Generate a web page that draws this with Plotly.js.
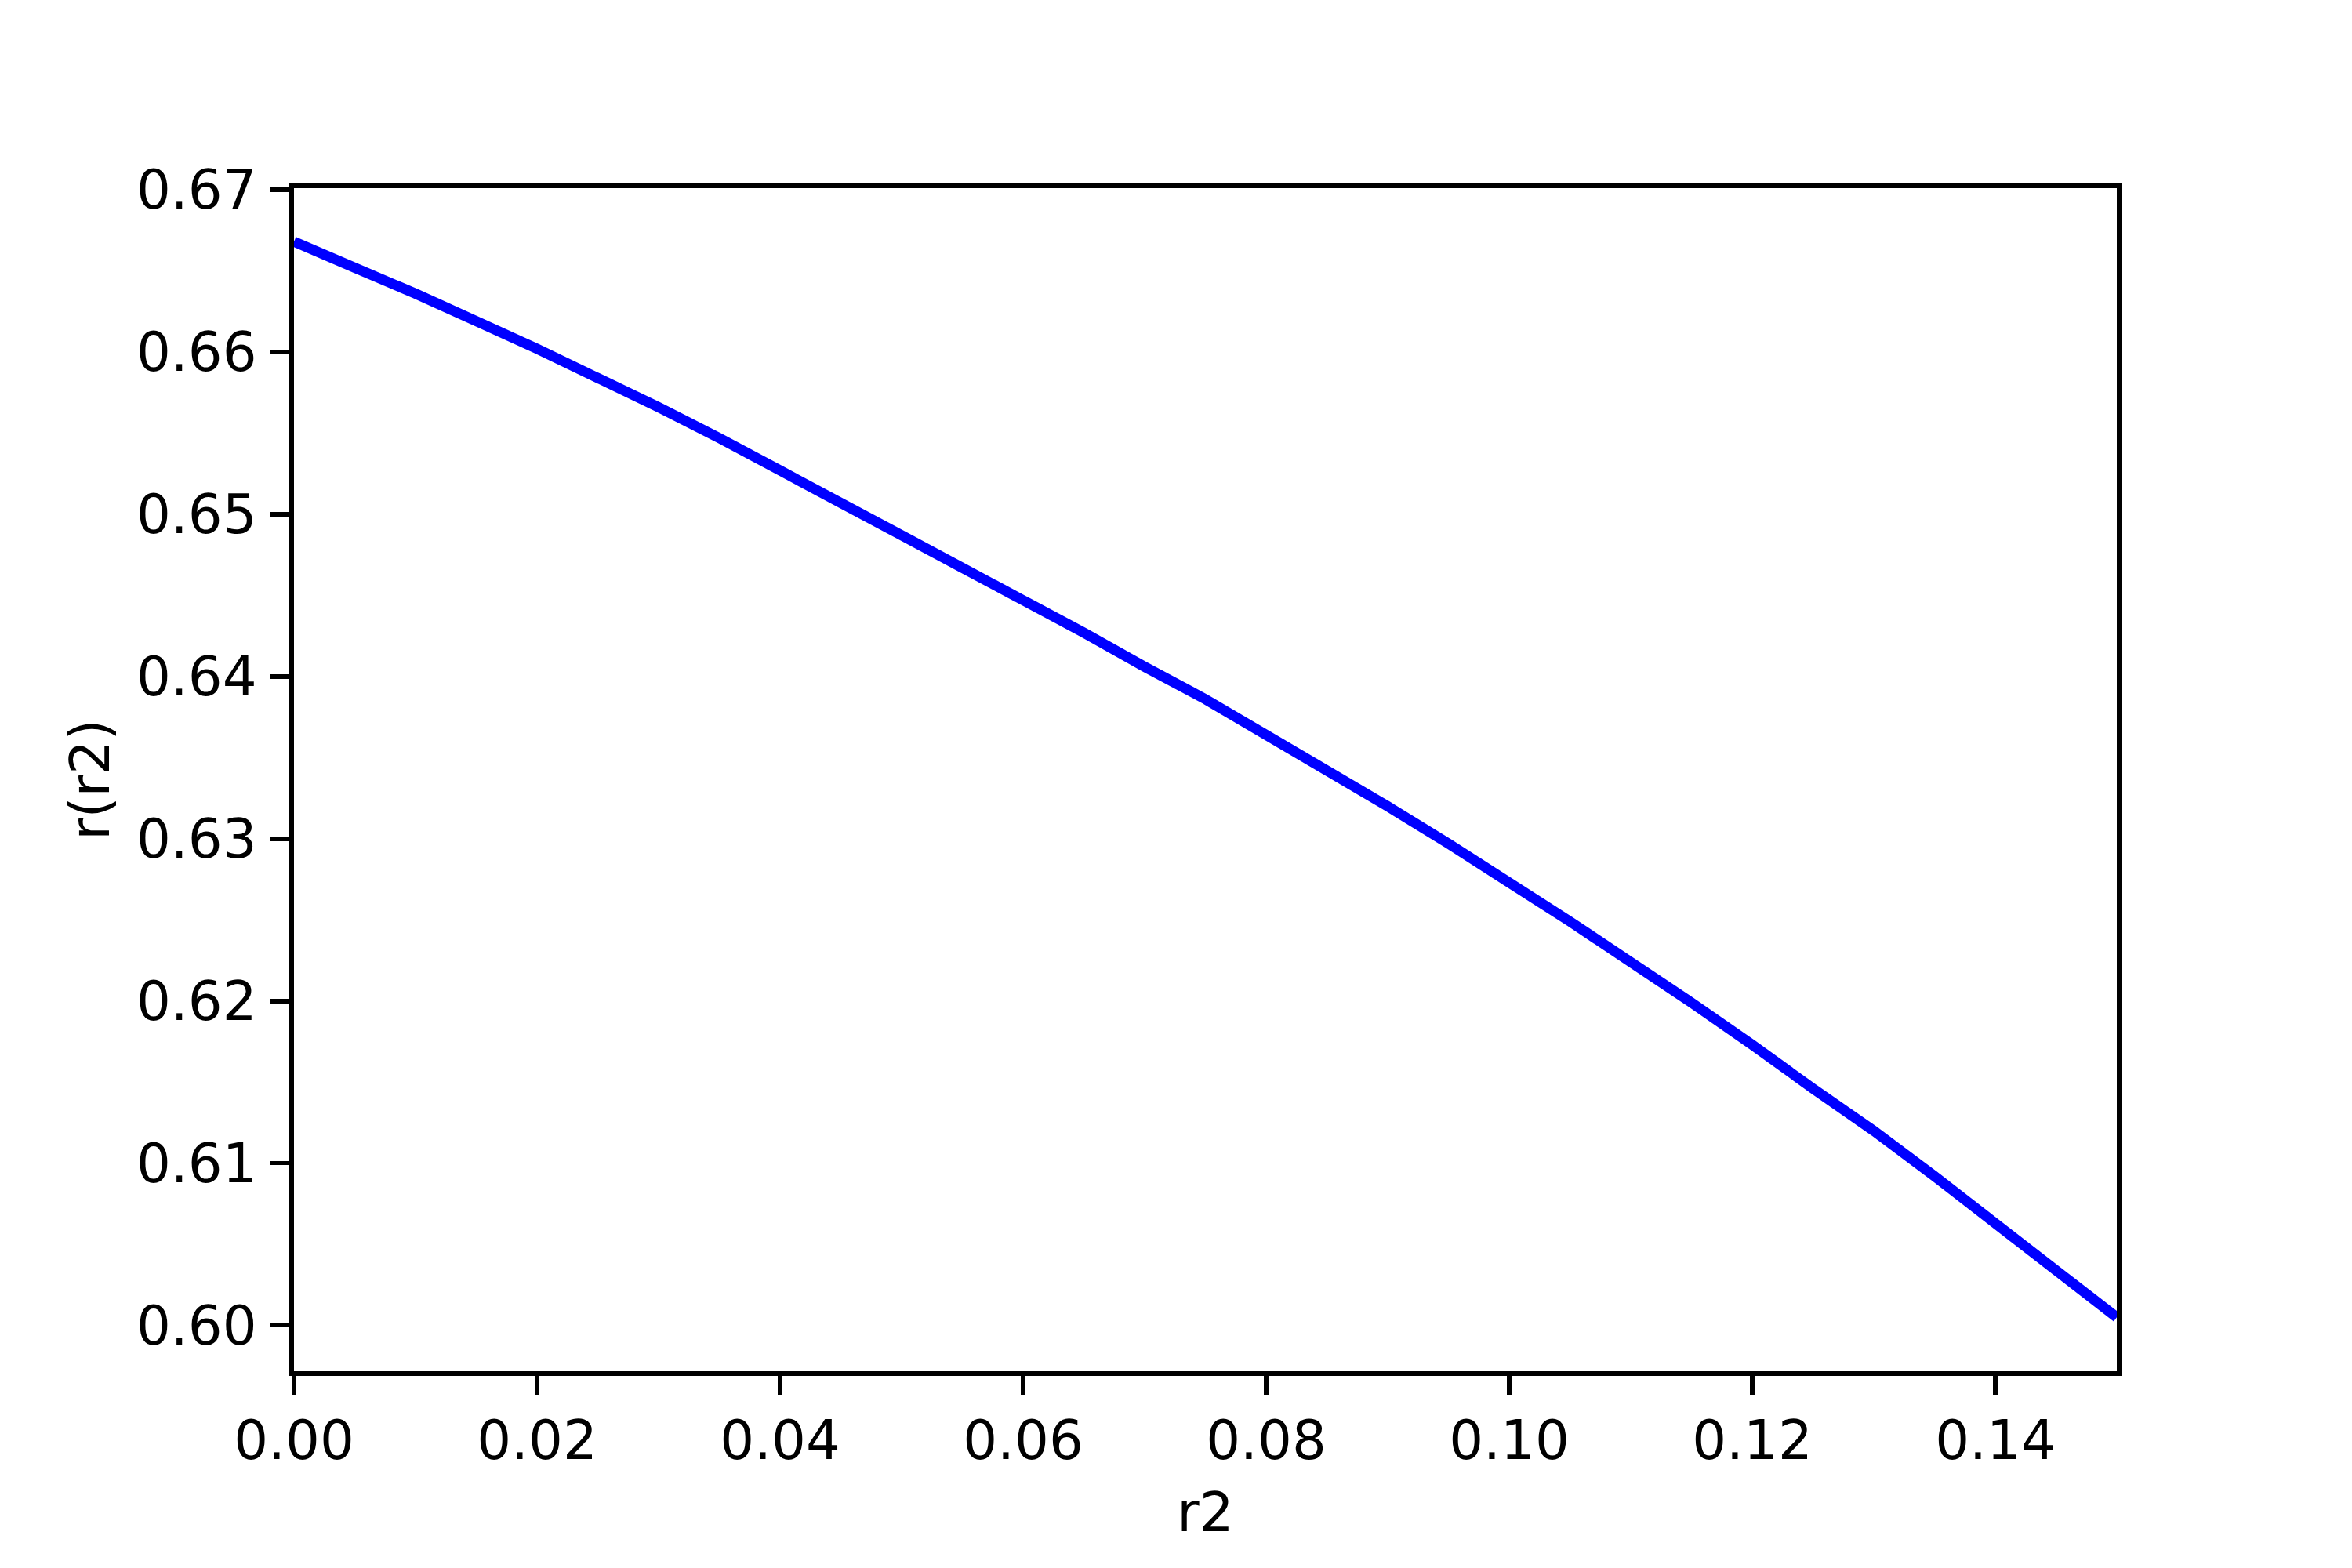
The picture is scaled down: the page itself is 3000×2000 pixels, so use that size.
<!DOCTYPE html>
<html>
<head>
<meta charset="utf-8">
<script src="https://cdn.plot.ly/plotly-3.0.1.min.js"></script>
<style>html,body{margin:0;padding:0;background:#fff;}#chart{width:3000px;height:2000px;}</style>
</head>
<body>
<div id="chart"></div>
<script>
const r2 = [0.000, 0.005, 0.010, 0.015, 0.020, 0.025, 0.030, 0.035, 0.040, 0.045,
            0.050, 0.055, 0.060, 0.065, 0.070, 0.075, 0.080, 0.085, 0.090, 0.095,
            0.100, 0.105, 0.110, 0.115, 0.120, 0.125, 0.130, 0.135, 0.140, 0.145, 0.150];
const rOfR2 = [0.6668, 0.6652, 0.6636, 0.6619, 0.6602, 0.6584, 0.6566, 0.6547, 0.6527, 0.6507,
               0.6487, 0.6467, 0.6447, 0.6427, 0.6406, 0.6386, 0.6364, 0.6342, 0.6320, 0.6297,
               0.6273, 0.6249, 0.6224, 0.6199, 0.6173, 0.6146, 0.6120, 0.6092, 0.6063, 0.6034, 0.6005];
const xTicks = [0.00, 0.02, 0.04, 0.06, 0.08, 0.10, 0.12, 0.14];
const yTicks = [0.60, 0.61, 0.62, 0.63, 0.64, 0.65, 0.66, 0.67];

const font = {family: 'DejaVu Sans', size: 69, color: '#000'};
const trace = {
  x: r2, y: rOfR2, type: 'scatter', mode: 'lines',
  line: {color: '#0000ff', width: 13, simplify: false, shape: 'linear'}, showlegend: false
};
const axisCommon = {
  showgrid: false, zeroline: false, showline: true, mirror: true,
  linecolor: '#000', linewidth: 5.6, ticks: 'outside', ticklen: 24,
  tickwidth: 5.6, tickcolor: '#000', tickfont: font, tickformat: '.2f',
  tickmode: 'array'
};
const layout = {
  width: 3000, height: 2000,
  paper_bgcolor: '#fff', plot_bgcolor: '#fff',
  margin: {l: 375, r: 300, t: 240, b: 251, pad: 0},
  font: font,
  xaxis: Object.assign({}, axisCommon, {
    range: [0, 0.15], tickvals: xTicks,
    title: {text: 'r2', font: font, standoff: 30}
  }),
  yaxis: Object.assign({}, axisCommon, {
    range: [0.59718, 0.67010], tickvals: yTicks, ticklabelstandoff: 4,
    title: {text: 'r(r2)', font: font, standoff: 14}
  })
};
Plotly.newPlot('chart', [trace], layout, {staticPlot: true, displayModeBar: false});
</script>
</body>
</html>
